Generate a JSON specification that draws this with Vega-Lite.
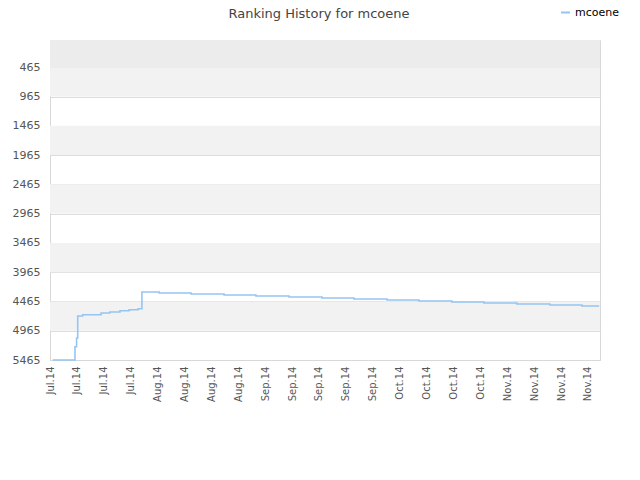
{
  "$schema": "https://vega.github.io/schema/vega-lite/v6.json",
  "width": 550,
  "height": 320,
  "autosize": {"type": "none"},
  "padding": {"left": 50, "top": 40, "right": 40, "bottom": 120},
  "background": "white",
  "config": {
    "font": "DejaVu Sans",
    "view": {"stroke": "#d8d8d8", "strokeWidth": 1},
    "axisY": {"labelOverlap": false, "format": "d", "tickCount": 11}
  },
  "title": {
    "text": "Ranking History for mcoene",
    "fontSize": 13,
    "fontWeight": "normal",
    "color": "#444444",
    "anchor": "middle",
    "frame": "group",
    "dx": -6,
    "offset": -14
  },
  "datasets": {
    "ranks": [
      {"date": "2014-07-07T17:00", "rank": 5465, "player": "mcoene"},
      {"date": "2014-07-13T12:00", "rank": 5238, "player": "mcoene"},
      {"date": "2014-07-13T22:00", "rank": 5089, "player": "mcoene"},
      {"date": "2014-07-14T05:00", "rank": 4714, "player": "mcoene"},
      {"date": "2014-07-15T12:00", "rank": 4691, "player": "mcoene"},
      {"date": "2014-07-20T07:00", "rank": 4662, "player": "mcoene"},
      {"date": "2014-07-22T14:00", "rank": 4645, "player": "mcoene"},
      {"date": "2014-07-25T05:00", "rank": 4623, "player": "mcoene"},
      {"date": "2014-07-27T14:00", "rank": 4606, "player": "mcoene"},
      {"date": "2014-07-29T22:00", "rank": 4589, "player": "mcoene"},
      {"date": "2014-07-30T22:00", "rank": 4304, "player": "mcoene"},
      {"date": "2014-08-04T10:00", "rank": 4321, "player": "mcoene"},
      {"date": "2014-08-12T17:00", "rank": 4338, "player": "mcoene"},
      {"date": "2014-08-21T07:00", "rank": 4355, "player": "mcoene"},
      {"date": "2014-08-29T14:00", "rank": 4372, "player": "mcoene"},
      {"date": "2014-09-07T05:00", "rank": 4389, "player": "mcoene"},
      {"date": "2014-09-15T19:00", "rank": 4406, "player": "mcoene"},
      {"date": "2014-09-24T02:00", "rank": 4423, "player": "mcoene"},
      {"date": "2014-10-02T17:00", "rank": 4440, "player": "mcoene"},
      {"date": "2014-10-11T00:00", "rank": 4457, "player": "mcoene"},
      {"date": "2014-10-19T14:00", "rank": 4474, "player": "mcoene"},
      {"date": "2014-10-27T22:00", "rank": 4491, "player": "mcoene"},
      {"date": "2014-11-05T12:00", "rank": 4509, "player": "mcoene"},
      {"date": "2014-11-14T02:00", "rank": 4526, "player": "mcoene"},
      {"date": "2014-11-22T10:00", "rank": 4543, "player": "mcoene"},
      {"date": "2014-11-26T22:00", "rank": 4543, "player": "mcoene"}
    ],
    "bands": [
      {"lo": 465, "hi": 965},
      {"lo": 1465, "hi": 1965},
      {"lo": 2465, "hi": 2965},
      {"lo": 3465, "hi": 3965},
      {"lo": 4465, "hi": 4965}
    ],
    "topband": [
      {"lo": 0, "hi": 465}
    ]
  },
  "resolve": {"scale": {"y": "shared"}},
  "layer": [
    {
      "data": {"name": "topband"},
      "mark": {"type": "rect", "fill": "#ececec"},
      "encoding": {
        "y": {
          "field": "lo",
          "type": "quantitative",
          "title": null,
          "scale": {"domain": [0, 5465], "reverse": true, "nice": false, "zero": false},
          "axis": {
            "values": [465, 965, 1465, 1965, 2465, 2965, 3465, 3965, 4465, 4965, 5465],
            "tickCount": 11,
            "format": "d",
            "labelFontSize": 11,
            "labelColor": "#555555",
            "labelPadding": 10,
            "ticks": false,
            "grid": true,
            "gridColor": "#dddddd",
            "domain": true,
            "domainColor": "#d8d8d8",
            "labelOverlap": false
          }
        },
        "y2": {"field": "hi"}
      }
    },
    {
      "data": {"name": "bands"},
      "mark": {"type": "rect", "fill": "#f2f2f2"},
      "encoding": {
        "y": {"field": "lo", "type": "quantitative", "title": null},
        "y2": {"field": "hi"}
      }
    },
    {
      "data": {"name": "ranks"},
      "mark": {"type": "line", "interpolate": "step-after", "strokeWidth": 1.6},
      "encoding": {
        "x": {
          "field": "date",
          "type": "temporal",
          "title": null,
          "scale": {"domain": [{"year": 2014, "month": 7, "date": 7}, {"year": 2014, "month": 11, "date": 27, "hours": 3}], "nice": false},
          "axis": {
            "values": [
              {"year": 2014, "month": 7, "date": 7},
              {"year": 2014, "month": 7, "date": 14},
              {"year": 2014, "month": 7, "date": 21},
              {"year": 2014, "month": 7, "date": 28},
              {"year": 2014, "month": 8, "date": 4},
              {"year": 2014, "month": 8, "date": 11},
              {"year": 2014, "month": 8, "date": 18},
              {"year": 2014, "month": 8, "date": 25},
              {"year": 2014, "month": 9, "date": 1},
              {"year": 2014, "month": 9, "date": 8},
              {"year": 2014, "month": 9, "date": 15},
              {"year": 2014, "month": 9, "date": 22},
              {"year": 2014, "month": 9, "date": 29},
              {"year": 2014, "month": 10, "date": 6},
              {"year": 2014, "month": 10, "date": 13},
              {"year": 2014, "month": 10, "date": 20},
              {"year": 2014, "month": 10, "date": 27},
              {"year": 2014, "month": 11, "date": 3},
              {"year": 2014, "month": 11, "date": 10},
              {"year": 2014, "month": 11, "date": 17},
              {"year": 2014, "month": 11, "date": 24}
            ],
            "tickCount": 21,
            "format": "%b.%y",
            "labelAngle": 270,
            "labelFontSize": 10,
            "labelColor": "#555555",
            "labelPadding": 6,
            "ticks": false,
            "grid": false,
            "domain": true,
            "domainColor": "#d8d8d8",
            "labelOverlap": false,
            "labelFlush": false
          }
        },
        "y": {
          "field": "rank",
          "type": "quantitative",
          "title": null
        },
        "color": {
          "field": "player",
          "type": "nominal",
          "scale": {"range": ["#95c5f2"]},
          "legend": {
            "title": null,
            "orient": "none",
            "legendX": 510,
            "legendY": -33,
            "symbolType": "stroke",
            "symbolSize": 80,
            "symbolStrokeWidth": 2,
            "labelFontSize": 11,
            "labelColor": "#000000"
          }
        }
      }
    }
  ]
}
